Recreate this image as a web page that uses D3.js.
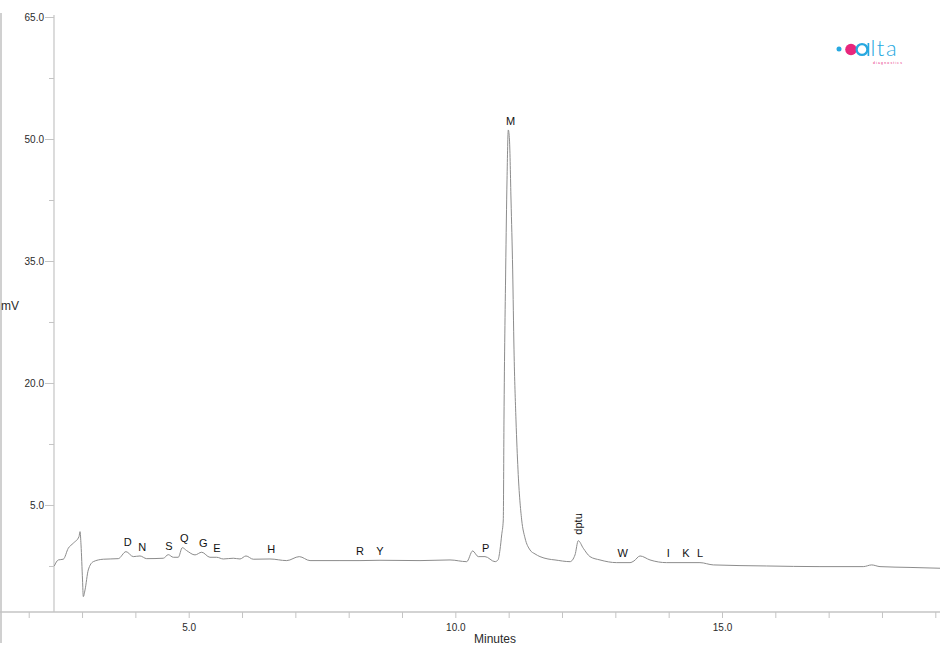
<!DOCTYPE html>
<html>
<head>
<meta charset="utf-8">
<script src="https://cdn.jsdelivr.net/npm/d3@7"></script>
<style>
  html, body { margin: 0; padding: 0; background: #fff; }
  svg { display: block; font-family: "Liberation Sans", Arial, Helvetica, sans-serif; }
</style>
</head>
<body>
<svg id="chart" width="940" height="655"></svg>
<script>
// ---- Data ----
const times = [2.48, 2.555, 2.649, 2.742, 2.836, 2.943, 2.962, 2.981, 3.009, 3.024, 3.056, 3.117, 3.211, 3.399, 3.68,
  3.824, 3.961, 4.087, 4.212, 4.524, 4.617, 4.711, 4.805, 4.88, 4.962, 5.118, 5.244, 5.399, 5.525, 5.649, 5.836,
  5.962, 6.074, 6.211, 6.524, 6.838, 7.074, 7.275, 7.837, 8.212, 8.587, 9.337, 9.9, 10.213, 10.325, 10.43, 10.556,
  10.744, 10.8, 10.837, 10.869, 10.899, 10.912, 10.944, 10.969, 10.993, 11.015, 11.044, 11.075, 11.1, 11.137, 11.175,
  11.244, 11.306, 11.4, 11.494, 11.587, 11.737, 11.869, 12.15, 12.244, 12.305, 12.399, 12.525, 12.712, 13.026,
  13.275, 13.35, 13.463, 13.65, 13.963, 14.587, 14.837, 15.838, 16.837, 17.649, 17.807, 17.963, 18.526, 19.088];
const signal = [-2.5, -1.76, -1.67, -0.32, 0.3, 1.11, 1.72, 0.09, -4.22, -6.27, -5.45, -2.99, -1.97, -1.67, -1.6,
  -0.74, -1.35, -1.27, -1.6, -1.55, -1.11, -1.43, -1.43, -0.25, -0.61, -1.14, -0.81, -1.43, -1.43, -1.64, -1.55,
  -1.64, -1.27, -1.67, -1.64, -1.84, -1.35, -1.84, -1.84, -1.84, -1.8, -1.84, -1.76, -1.97, -0.65, -1.35, -1.35,
  -1.97, -1.76, -0.53, 1.32, 3.16, 15.46, 33.9, 44.97, 51.11, 49.88, 42.5, 33.9, 24.07, 15.46, 9.31,
  3.16, 0.95, -0.53, -1.02, -1.35, -1.64, -1.76, -1.97, -1.14, 0.61, -0.32, -1.35, -1.76, -2.09,
  -2.09, -1.88, -1.27, -1.76, -2.09, -2.09, -2.37, -2.5, -2.58, -2.58, -2.37, -2.58, -2.68, -2.78];

const peakNames  = ["D", "N", "S", "Q", "G", "E", "H", "R", "Y", "P", "M", "dptu", "W", "I", "K", "L"];
const peakTimes  = [3.856, 4.13, 4.631, 4.917, 5.274, 5.531, 6.549, 8.212, 8.587, 10.569, 11.038, 12.294, 13.138, 13.993, 14.325, 14.587];
const peakLabelMv = [0.45, -0.12, -0.04, 0.98, 0.37, -0.28, -0.41, -0.65, -0.65, -0.25, 52.26, 2.67, -0.93, -0.9, -0.9, -0.9];

const xTicks = [2, 3, 4, 5, 6, 7, 8, 9, 10, 11, 12, 13, 14, 15, 16, 17, 18, 19];
const xTickLabels = [5, 10, 15];
const yMajorTicks = [5, 20, 35, 50, 65];
const yMinorTicks = [-2.5, 12.5, 27.5, 42.5, 57.5];

// ---- Scales ----
const x = d3.scaleLinear().domain([1.4617, 19.088]).range([0, 940]);
const y = d3.scaleLinear().domain([-8, 65]).range([610.7, 17]);
const svg = d3.select("#chart");

const axisColor = "#c4c4c4";
const textColor = "#2a2a2a";

// left frame line
svg.append("line").attr("x1", 1).attr("x2", 1).attr("y1", 13).attr("y2", 643)
  .attr("stroke", "#d0d0d0").attr("stroke-width", 2);

// ---- X axis ----
const xAxis = d3.axisBottom(x).tickValues(xTicks).tickSize(6).tickSizeOuter(0)
  .tickFormat(d => xTickLabels.includes(d) ? d3.format(".1f")(d) : "");
const gx = svg.append("g").attr("transform", "translate(0,612)").call(xAxis);
gx.select(".domain").attr("stroke", axisColor).attr("stroke-width", 1.5)
  .attr("d", "M0,0H940");
gx.selectAll(".tick line").attr("stroke", axisColor);
gx.selectAll(".tick text").attr("fill", textColor).attr("font-size", 10).attr("dy", "0.95em");

svg.append("text").attr("x", 495).attr("y", 643).attr("text-anchor", "middle")
  .attr("font-size", 12).attr("fill", textColor).text("Minutes");

// ---- Y axis ----
const yAxis = d3.axisLeft(y).tickValues(yMajorTicks).tickSize(9).tickSizeOuter(0)
  .tickFormat(d3.format(".1f"));
const gy = svg.append("g").attr("transform", "translate(54,0)").call(yAxis);
gy.select(".domain").attr("stroke", axisColor).attr("stroke-width", 1.2)
  .attr("d", "M0,15V612");
gy.selectAll(".tick line").attr("stroke", axisColor);
gy.selectAll(".tick text").attr("fill", textColor).attr("font-size", 10).attr("x", -10);

const yMinor = d3.axisLeft(y).tickValues(yMinorTicks).tickSize(5).tickFormat("");
const gym = svg.append("g").attr("transform", "translate(54,0)").call(yMinor);
gym.select(".domain").remove();
gym.selectAll(".tick line").attr("stroke", axisColor);

svg.append("text").attr("x", 1).attr("y", 310).attr("font-size", 12)
  .attr("fill", textColor).text("mV");

// ---- Trace ----
const pts = times.map((t, i) => [t, signal[i]]);
const line = d3.line().x(d => x(d[0])).y(d => y(d[1])).curve(d3.curveMonotoneX);
svg.append("path").datum(pts).attr("d", line)
  .attr("fill", "none").attr("stroke", "#8c8c8c").attr("stroke-width", 1);

// ---- Peak labels ----
peakNames.forEach((name, i) => {
  const px = x(peakTimes[i]), py = y(peakLabelMv[i]);
  const t = svg.append("text").attr("font-size", 11).attr("fill", "#111")
    .attr("text-anchor", "middle").attr("dy", "0.36em").text(name);
  if (name === "dptu") {
    t.attr("transform", `translate(${px},${py}) rotate(-90)`);
  } else {
    t.attr("x", px).attr("y", py);
  }
});

// ---- Logo ----
const logo = svg.append("g");
const blue = "#27a8e0", pink = "#e8267c";
logo.append("circle").attr("cx", 839).attr("cy", 49).attr("r", 2.5).attr("fill", blue);
logo.append("circle").attr("cx", 851).attr("cy", 49.5).attr("r", 5.8).attr("fill", pink);
logo.append("circle").attr("cx", 862).attr("cy", 49.5).attr("r", 5.4)
  .attr("fill", "#fff").attr("stroke", blue).attr("stroke-width", 2.3);
logo.append("line").attr("x1", 868.4).attr("x2", 868.4).attr("y1", 43).attr("y2", 56)
  .attr("stroke", blue).attr("stroke-width", 1.7);
logo.append("text").attr("x", 870.5).attr("y", 56).attr("font-size", 22)
  .attr("font-family", "Lato, 'Open Sans', sans-serif").attr("font-weight", 300)
  .attr("fill", blue).attr("letter-spacing", 1.5).text("lta");
logo.append("text").attr("x", 873).attr("y", 64).attr("font-size", 3.4)
  .attr("fill", pink).attr("letter-spacing", 1.2).text("diagnostics");
</script>
</body>
</html>
